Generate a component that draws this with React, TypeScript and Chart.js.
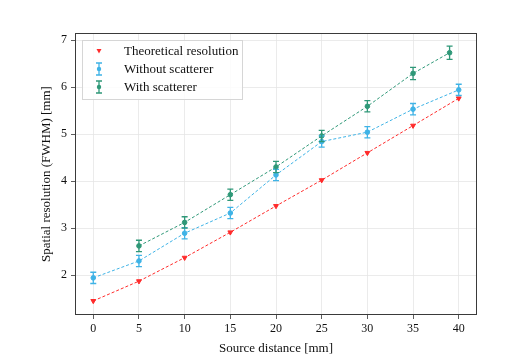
import React, { useEffect, useRef } from "react";
import { Chart, registerables } from "chart.js";

Chart.register(...registerables);

const xTicks = [0, 5, 10, 15, 20, 25, 30, 35, 40];
const yTicks = [2, 3, 4, 5, 6, 7];

const theoX = [0, 5, 10, 15, 20, 25, 30, 35, 40];
const theoY = [1.45, 1.87, 2.37, 2.91, 3.47, 4.02, 4.6, 5.18, 5.76];

const noScatX = [0, 5, 10, 15, 20, 25, 30, 35, 40];
const noScatY = [1.94, 2.3, 2.89, 3.32, 4.13, 4.84, 5.04, 5.53, 5.94];
const noScatErr = [0.12, 0.12, 0.12, 0.12, 0.12, 0.12, 0.12, 0.12, 0.12];

const scatX = [5, 10, 15, 20, 25, 30, 35, 39];
const scatY = [2.62, 3.12, 3.71, 4.3, 4.96, 5.59, 6.29, 6.73];
const scatErr = [0.12, 0.12, 0.12, 0.12, 0.12, 0.12, 0.13, 0.14];

const RED = "#ff2b2b";
const BLUE = "#3fb3e6";
const GREEN = "#2f9878";
const FONT = "'Liberation Serif', 'Times New Roman', serif";

const errorBarPlugin = {
  id: "errorBars",
  afterDatasetsDraw(chart: any) {
    const ctx = chart.ctx;
    const ys = chart.scales.y;
    chart.data.datasets.forEach((ds: any, i: number) => {
      if (!ds.errors) return;
      const meta = chart.getDatasetMeta(i);
      ctx.save();
      ctx.strokeStyle = ds.borderColor;
      ctx.lineWidth = 1.3;
      meta.data.forEach((pt: any, j: number) => {
        const v = ds.data[j].y;
        const e = ds.errors[j];
        const top = ys.getPixelForValue(v + e);
        const bot = ys.getPixelForValue(v - e);
        const x = pt.x;
        ctx.beginPath();
        ctx.moveTo(x, top);
        ctx.lineTo(x, bot);
        ctx.moveTo(x - 3, top);
        ctx.lineTo(x + 3, top);
        ctx.moveTo(x - 3, bot);
        ctx.lineTo(x + 3, bot);
        ctx.stroke();
      });
      ctx.restore();
    });
  },
};

const framePlugin = {
  id: "frame",
  afterDraw(chart: any) {
    const { ctx, chartArea: a } = chart;
    ctx.save();
    ctx.strokeStyle = "#3a3a3a";
    ctx.lineWidth = 1;
    ctx.strokeRect(a.left + 0.5, a.top + 0.5, a.right - a.left - 1, a.bottom - a.top - 1);
    ctx.restore();
  },
};

const legendPlugin = {
  id: "boxLegend",
  afterDraw(chart: any) {
    const { ctx, chartArea: a } = chart;
    const x0 = a.left + 7;
    const y0 = a.top + 7;
    const w = 160;
    const h = 59;
    ctx.save();
    ctx.fillStyle = "rgba(255,255,255,0.85)";
    ctx.strokeStyle = "#d6d6d6";
    ctx.lineWidth = 1;
    ctx.fillRect(x0, y0, w, h);
    ctx.strokeRect(x0 + 0.5, y0 + 0.5, w, h);
    const items = [
      { label: "Theoretical resolution", color: RED, kind: "tri" },
      { label: "Without scatterer", color: BLUE, kind: "err" },
      { label: "With scatterer", color: GREEN, kind: "err" },
    ];
    ctx.font = `13px ${FONT}`;
    ctx.textBaseline = "middle";
    items.forEach((it, k) => {
      const cy = y0 + 11 + k * 18;
      const mx = x0 + 17;
      ctx.fillStyle = it.color;
      ctx.strokeStyle = it.color;
      if (it.kind === "tri") {
        ctx.beginPath();
        ctx.moveTo(mx - 2.5, cy - 2);
        ctx.lineTo(mx + 2.5, cy - 2);
        ctx.lineTo(mx, cy + 2.5);
        ctx.closePath();
        ctx.fill();
      } else {
        ctx.lineWidth = 1.3;
        ctx.beginPath();
        ctx.moveTo(mx, cy - 6);
        ctx.lineTo(mx, cy + 6);
        ctx.moveTo(mx - 3, cy - 6);
        ctx.lineTo(mx + 3, cy - 6);
        ctx.moveTo(mx - 3, cy + 6);
        ctx.lineTo(mx + 3, cy + 6);
        ctx.stroke();
        ctx.beginPath();
        ctx.arc(mx, cy, 2.2, 0, Math.PI * 2);
        ctx.fill();
      }
      ctx.fillStyle = "#111";
      ctx.fillText(it.label, x0 + 42, cy + 1);
    });
    ctx.restore();
  },
};

export default function App() {
  const ref = useRef<HTMLCanvasElement>(null);
  useEffect(() => {
    const ds = (
      label: string,
      xs: number[],
      ys: number[],
      color: string,
      style: any,
      errors?: number[]
    ) => ({
      label,
      data: xs.map((x, i) => ({ x, y: ys[i] })),
      borderColor: color,
      backgroundColor: color,
      borderWidth: 1,
      borderDash: [3, 2],
      pointStyle: style,
      pointRadius: style === "triangle" ? 2.8 : 2.3,
      pointRotation: style === "triangle" ? 180 : 0,
      pointBorderWidth: 1,
      errors,
      showLine: true,
    });
    const chart = new Chart(ref.current!, {
      type: "scatter",
      data: {
        datasets: [
          ds("Theoretical resolution", theoX, theoY, RED, "triangle"),
          ds("Without scatterer", noScatX, noScatY, BLUE, "circle", noScatErr),
          ds("With scatterer", scatX, scatY, GREEN, "circle", scatErr),
        ] as any,
      },
      options: {
        animation: false,
        responsive: false,
        layout: { padding: { top: 33, right: 41, left: 39, bottom: 4 } },
        plugins: { legend: { display: false }, tooltip: { enabled: false } },
        scales: {
          x: {
            type: "linear",
            min: -2,
            max: 42,
            afterBuildTicks: (s: any) => {
              s.ticks = xTicks.map((v) => ({ value: v }));
            },
            afterFit: (s: any) => {
              s.height = 41;
            },
            grid: { color: "#e6e6e6", lineWidth: 0.8, tickLength: 4, tickColor: "#333" },
            border: { display: false },
            ticks: { color: "#111", font: { family: FONT, size: 12 }, padding: 3, maxRotation: 0 },
            title: {
              display: true,
              text: "Source distance [mm]",
              color: "#111",
              font: { family: FONT, size: 13 },
              padding: { top: 2, bottom: 0 },
            },
          },
          y: {
            type: "linear",
            min: 1.15,
            max: 7.15,
            afterBuildTicks: (s: any) => {
              s.ticks = yTicks.map((v) => ({ value: v }));
            },
            afterFit: (s: any) => {
              s.width = 36;
            },
            grid: { color: "#e6e6e6", lineWidth: 0.8, tickLength: 4, tickColor: "#333" },
            border: { display: false },
            ticks: { color: "#111", font: { family: FONT, size: 12 }, padding: 4 },
            title: {
              display: true,
              text: "Spatial resolution (FWHM) [mm]",
              color: "#111",
              font: { family: FONT, size: 13 },
              padding: { top: 0, bottom: 6 },
            },
          },
        },
      } as any,
      plugins: [errorBarPlugin, framePlugin, legendPlugin],
    });
    return () => chart.destroy();
  }, []);
  return (
    <div style={{ position: "fixed", left: 0, top: 0, width: 518, height: 360, background: "#fff" }}>
      <canvas ref={ref} width={518} height={360} style={{ width: 518, height: 360 }} />
    </div>
  );
}
